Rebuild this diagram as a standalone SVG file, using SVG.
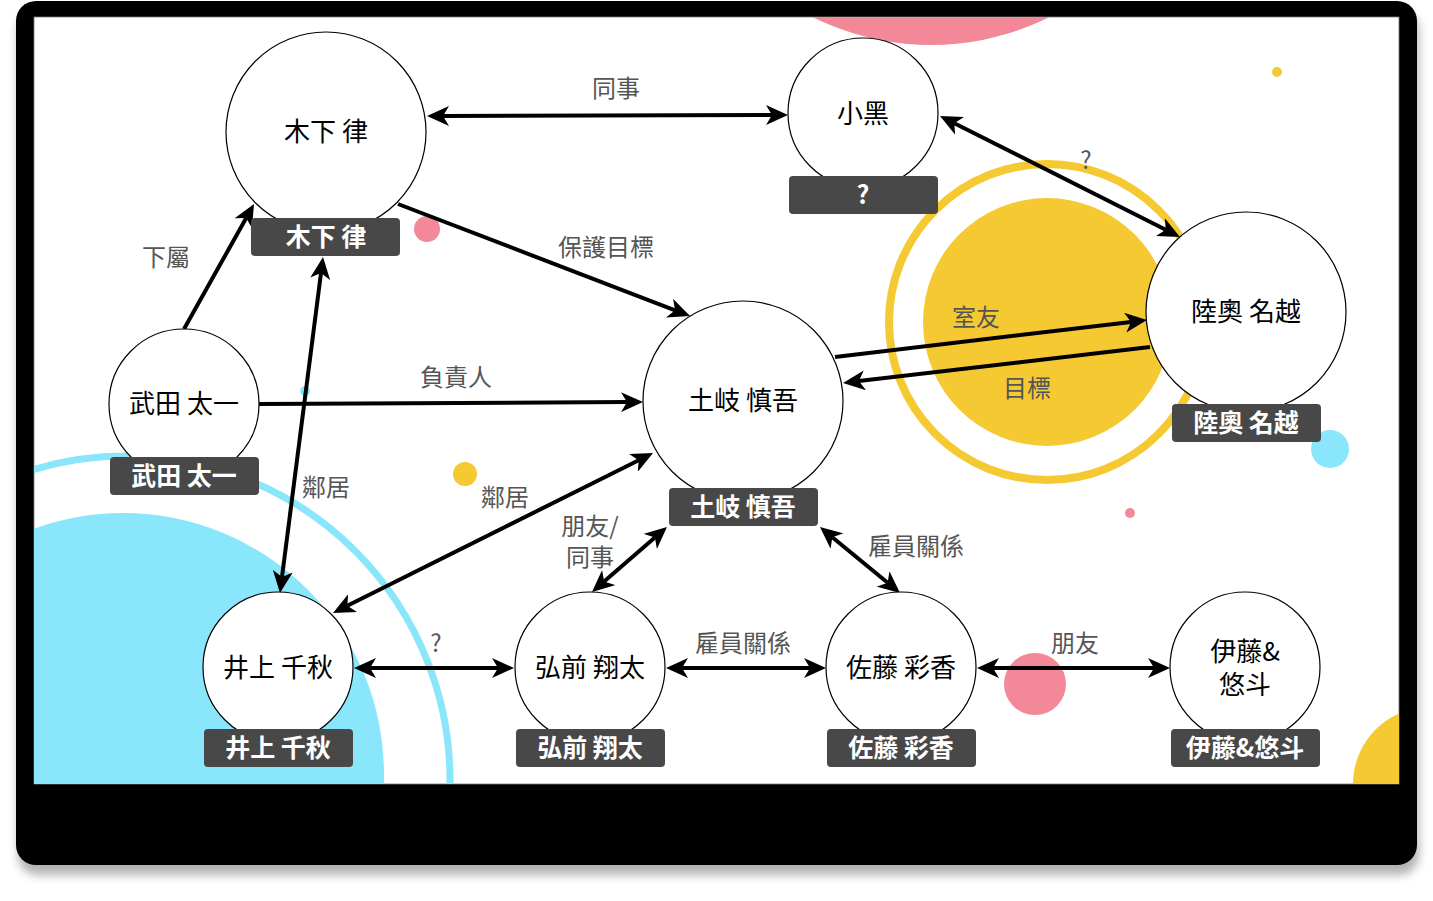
<svg xmlns="http://www.w3.org/2000/svg" width="1433" height="901" viewBox="0 0 1433 901">
<defs>
<style>
.node{fill:#fff;stroke:#000;stroke-width:1.2}
.lbl{fill:#484848}
.nt{font-family:"Noto Sans CJK TC","Noto Sans",sans-serif;font-size:26px;fill:#000;text-anchor:middle;dominant-baseline:central}
.lt{font-family:"Noto Sans CJK TC","Noto Sans",sans-serif;font-size:25px;font-weight:bold;fill:#fff;text-anchor:middle;dominant-baseline:central}
.et{font-family:"Noto Sans CJK TC","Noto Sans",sans-serif;font-size:24px;fill:#555;text-anchor:middle;dominant-baseline:central}
.edge{fill:none;stroke:#000;stroke-width:4}
</style>
<marker id="ah" viewBox="0 0 22 20" markerWidth="22" markerHeight="20" refX="6" refY="10" orient="auto-start-reverse" markerUnits="userSpaceOnUse">
<path d="M22,10 L0,0 L6,10 L0,20 Z" fill="#000"/>
</marker>
<clipPath id="scr"><rect x="34" y="17" width="1365" height="767"/></clipPath>
<filter id="sh" x="-5%" y="-5%" width="110%" height="115%">
<feDropShadow dx="2" dy="10" stdDeviation="5" flood-color="#000" flood-opacity="0.3"/>
</filter>
</defs>
<rect x="16" y="1" width="1401" height="864" rx="20" fill="#000" filter="url(#sh)"/>
<rect x="34" y="17" width="1365" height="767" fill="#fff" stroke="#777" stroke-width="0.8"/>
<g clip-path="url(#scr)">
<circle cx="931" cy="-220" r="265" fill="#F38898"/>
<circle cx="1047" cy="322" r="158" fill="none" stroke="#F5C932" stroke-width="8"/>
<circle cx="1047" cy="322" r="124" fill="#F5C932"/>
<circle cx="126" cy="780" r="324" fill="none" stroke="#8AE6FA" stroke-width="7"/>
<circle cx="123" cy="774" r="261" fill="#8AE6FA"/>
<circle cx="1430" cy="784" r="77" fill="#F5C932"/>
<circle cx="427" cy="229" r="13" fill="#F38898"/>
<circle cx="465" cy="474" r="12" fill="#F5C932"/>
<circle cx="1277" cy="72" r="5" fill="#F5C932"/>
<circle cx="1330" cy="449" r="19" fill="#8AE6FA"/>
<circle cx="1130" cy="513" r="5" fill="#F38898"/>
<circle cx="1035" cy="684" r="31" fill="#F38898"/>
<circle cx="305" cy="391" r="5" fill="#8AE6FA"/>
</g>
<g id="connectors">
<line class="edge" x1="443" y1="116" x2="772" y2="115" marker-start="url(#ah)" marker-end="url(#ah)"/>
<line class="edge" x1="954.3" y1="123.2" x2="1165.7" y2="229.8" marker-start="url(#ah)" marker-end="url(#ah)"/>
<line class="edge" x1="398" y1="204" x2="675.1" y2="310.3" marker-end="url(#ah)"/>
<line class="edge" x1="184" y1="329" x2="246.2" y2="218" marker-end="url(#ah)"/>
<line class="edge" x1="259" y1="404" x2="627" y2="402.1" marker-end="url(#ah)"/>
<line class="edge" x1="282" y1="577.1" x2="321" y2="272.9" marker-start="url(#ah)" marker-end="url(#ah)"/>
<line class="edge" x1="347.3" y1="605.8" x2="638.7" y2="460.2" marker-start="url(#ah)" marker-end="url(#ah)"/>
<line class="edge" x1="604.1" y1="581.5" x2="654.9" y2="537.5" marker-start="url(#ah)" marker-end="url(#ah)"/>
<line class="edge" x1="832.3" y1="537.2" x2="887.7" y2="582.8" marker-start="url(#ah)" marker-end="url(#ah)"/>
<line class="edge" x1="370" y1="668" x2="498" y2="668" marker-start="url(#ah)" marker-end="url(#ah)"/>
<line class="edge" x1="682" y1="668" x2="810" y2="668" marker-start="url(#ah)" marker-end="url(#ah)"/>
<line class="edge" x1="993" y1="668" x2="1154" y2="668" marker-start="url(#ah)" marker-end="url(#ah)"/>
<line class="edge" x1="835" y1="357" x2="1131.1" y2="321.9" marker-end="url(#ah)"/>
<line class="edge" x1="1150" y1="347" x2="858.9" y2="381.1" marker-end="url(#ah)"/>
<text class="et" x="616" y="86">同事</text>
<text class="et" x="1086" y="158">?</text>
<text class="et" x="606" y="245">保護目標</text>
<text class="et" x="166" y="255">下屬</text>
<text class="et" x="456" y="375">負責人</text>
<text class="et" x="326" y="485">鄰居</text>
<text class="et" x="505" y="495">鄰居</text>
<text class="et" x="590" y="524">朋友/<tspan x="590" dy="31">同事</tspan></text>
<text class="et" x="916" y="544">雇員關係</text>
<text class="et" x="436" y="641">?</text>
<text class="et" x="743" y="641">雇員關係</text>
<text class="et" x="1075" y="641">朋友</text>
<text class="et" x="976" y="315">室友</text>
<text class="et" x="1027" y="386">目標</text>
</g>
<g id="node-kinoshita">
<circle class="node" cx="326" cy="132" r="100"/>
<rect class="lbl" x="251" y="218" width="149" height="38" rx="4"/>
<text class="nt" x="326" y="129">木下 律</text>
<text class="lt" x="326" y="235">木下 律</text>
</g>
<g id="node-kokuro">
<circle class="node" cx="863" cy="113" r="75"/>
<rect class="lbl" x="789" y="176" width="149" height="38" rx="4"/>
<text class="nt" x="863" y="111">小黑</text>
<text class="lt" x="863" y="193">?</text>
</g>
<g id="node-mutsu">
<circle class="node" cx="1246" cy="312" r="100"/>
<rect class="lbl" x="1172" y="404" width="149" height="38" rx="4"/>
<text class="nt" x="1246" y="309">陸奧 名越</text>
<text class="lt" x="1246" y="421">陸奧 名越</text>
</g>
<g id="node-takeda">
<circle class="node" cx="184" cy="404" r="75"/>
<rect class="lbl" x="110" y="457" width="149" height="38" rx="4"/>
<text class="nt" x="184" y="401">武田 太一</text>
<text class="lt" x="184" y="474">武田 太一</text>
</g>
<g id="node-toki">
<circle class="node" cx="743" cy="401" r="100"/>
<rect class="lbl" x="669" y="488" width="149" height="38" rx="4"/>
<text class="nt" x="743" y="398">土岐 慎吾</text>
<text class="lt" x="743" y="505">土岐 慎吾</text>
</g>
<g id="node-inoue">
<circle class="node" cx="278" cy="667" r="75"/>
<rect class="lbl" x="204" y="729" width="149" height="38" rx="4"/>
<text class="nt" x="278" y="665">井上 千秋</text>
<text class="lt" x="278" y="746">井上 千秋</text>
</g>
<g id="node-hirosaki">
<circle class="node" cx="590" cy="667" r="75"/>
<rect class="lbl" x="516" y="729" width="149" height="38" rx="4"/>
<text class="nt" x="590" y="665">弘前 翔太</text>
<text class="lt" x="590" y="746">弘前 翔太</text>
</g>
<g id="node-sato">
<circle class="node" cx="901" cy="667" r="75"/>
<rect class="lbl" x="827" y="729" width="149" height="38" rx="4"/>
<text class="nt" x="901" y="665">佐藤 彩香</text>
<text class="lt" x="901" y="746">佐藤 彩香</text>
</g>
<g id="node-ito">
<circle class="node" cx="1245" cy="667" r="75"/>
<rect class="lbl" x="1171" y="729" width="149" height="38" rx="4"/>
<text class="nt" x="1245" y="649">伊藤&amp;<tspan x="1245" dy="33">悠斗</tspan></text>
<text class="lt" x="1245" y="746">伊藤&amp;悠斗</text>
</g>
</svg>
